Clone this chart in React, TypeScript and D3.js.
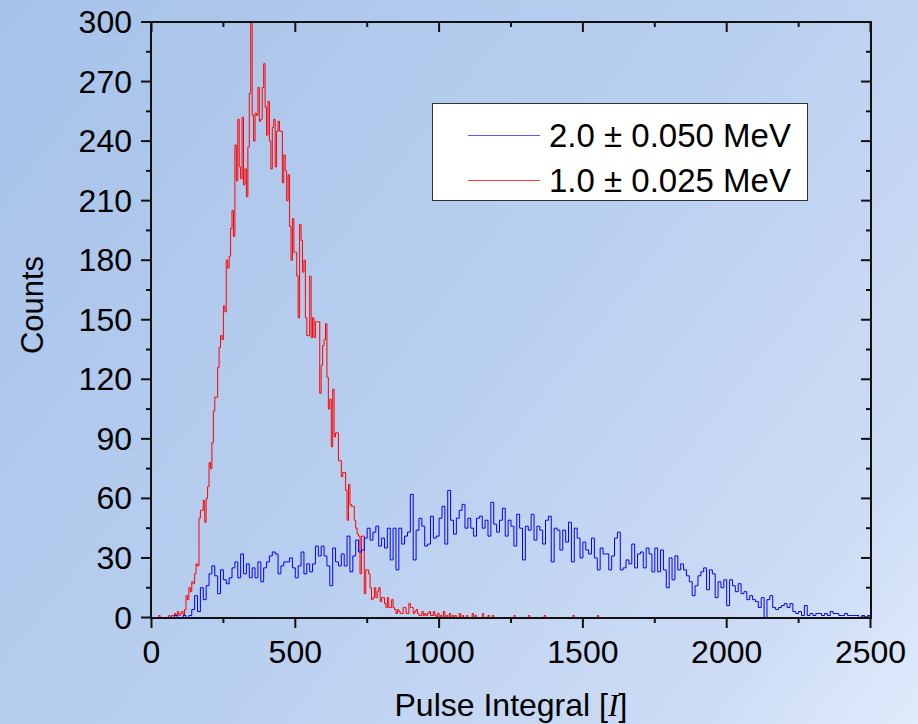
import React from 'react';
import * as d3 from 'd3';

// ---------- data ----------
const xTickValues = [0, 500, 1000, 1500, 2000, 2500];
const yTickValues = [0, 30, 60, 90, 120, 150, 180, 210, 240, 270, 300];
const xTitle = 'Pulse Integral [';
const yTitle = 'Counts';
const legendLabels = ['2.0 \u00b1 0.050 MeV', '1.0 \u00b1 0.025 MeV'];

// 1.0 MeV histogram: bins of 5 units from 0 to 1000
const redBinWidth = 5;
const redCounts = [
  0, 0, 0, 0, 0, 1, 0, 0, 0, 0,
  0, 0, 1, 0, 1, 1, 2, 1, 3, 1,
  2, 3, 1, 4, 11, 9, 15, 13, 18, 17,
  22, 27, 26, 50, 54, 54, 59, 48, 60, 66,
  78, 75, 88, 104, 111, 111, 126, 136, 142, 140,
  157, 154, 180, 176, 182, 196, 205, 192, 238, 220,
  251, 227, 221, 252, 218, 226, 212, 237, 264, 300,
  253, 240, 254, 253, 267, 250, 251, 267, 279, 257,
  243, 260, 240, 226, 247, 251, 227, 245, 250, 245,
  245, 219, 233, 225, 210, 223, 197, 180, 201, 184,
  184, 172, 151, 198, 190, 174, 180, 151, 142, 142,
  172, 141, 151, 141, 149, 149, 149, 113, 127, 137,
  140, 148, 121, 105, 110, 86, 115, 91, 93, 93,
  79, 79, 71, 73, 73, 64, 49, 67, 57, 56,
  56, 49, 45, 42, 41, 22, 41, 41, 12, 24,
  24, 22, 15, 9, 10, 15, 10, 13, 15, 8,
  10, 10, 7, 5, 10, 5, 5, 9, 5, 4,
  2, 4, 3, 2, 2, 5, 5, 2, 2, 7,
  5, 5, 2, 3, 4, 2, 1, 1, 3, 1,
  2, 1, 2, 3, 1, 1, 3, 1, 0, 2,
];
// sparse tail of the 1.0 MeV histogram beyond 1000
const redTailBins = [1005, 1015, 1025, 1035, 1045, 1055, 1070, 1080, 1095, 1115, 1125, 1150, 1170, 1185, 1260, 1310, 1365, 1465, 1550];
const redTailCounts = [1, 3, 1, 2, 1, 1, 2, 1, 1, 2, 1, 2, 1, 1, 1, 1, 1, 1, 1];

// 2.0 MeV histogram: bins of 10 units from 0 to 2500
const blueBinWidth = 10;
const blueCounts = [
  0, 0, 0, 0, 0, 0, 0, 0, 1, 0,
  0, 1, 0, 1, 4, 11, 3, 15, 9, 16,
  22, 26, 21, 12, 24, 19, 17, 20, 25, 28,
  20, 32, 22, 27, 20, 25, 20, 28, 18, 25,
  28, 31, 33, 32, 22, 26, 28, 28, 30, 25,
  20, 26, 33, 22, 27, 23, 27, 36, 31, 36,
  31, 26, 16, 35, 28, 26, 32, 26, 41, 23,
  31, 39, 33, 34, 40, 45, 39, 43, 46, 36,
  40, 35, 45, 29, 45, 24, 45, 37, 41, 43,
  62, 29, 44, 50, 46, 36, 37, 51, 40, 41,
  50, 56, 37, 64, 49, 42, 50, 54, 57, 45,
  50, 45, 41, 50, 51, 45, 49, 41, 58, 47,
  43, 49, 55, 41, 49, 46, 36, 52, 45, 29,
  46, 44, 52, 39, 46, 44, 37, 49, 51, 28,
  45, 44, 34, 44, 38, 48, 28, 45, 40, 30,
  38, 34, 32, 40, 30, 24, 35, 32, 32, 24,
  31, 40, 43, 24, 25, 29, 27, 37, 25, 32,
  33, 25, 35, 32, 23, 35, 23, 34, 24, 15,
  30, 19, 31, 24, 27, 24, 21, 18, 11, 16,
  21, 23, 25, 14, 24, 22, 10, 18, 15, 19,
  6, 19, 16, 13, 17, 12, 13, 9, 11, 9,
  8, 5, 10, 0, 9, 11, 5, 4, 5, 6,
  7, 5, 7, 3, 2, 3, 1, 6, 1, 2,
  1, 2, 2, 1, 2, 1, 3, 2, 2, 1,
  1, 2, 1, 1, 1, 1, 0, 1, 0, 1,
];

// ---------- helpers ----------
const W = 918;
const H = 724;
const x = d3.scaleLinear().domain([0, 2500]).range([151.5, 870.5]);
const y = d3.scaleLinear().domain([0, 300]).range([617.5, 22]);

function stepPath(counts: number[], width: number): string {
  const pts: [number, number][] = counts.map((c, i) => [i * width, c]);
  pts.push([counts.length * width, counts[counts.length - 1]]);
  const line = d3
    .line<[number, number]>()
    .x((d) => x(d[0]))
    .y((d) => y(d[1]))
    .curve(d3.curveStepAfter);
  return line(pts) || '';
}

function buildRed(): number[] {
  const n = Math.round(2500 / redBinWidth);
  const arr = new Array(n).fill(0);
  redCounts.forEach((c, i) => (arr[i] = c));
  redTailBins.forEach((b, i) => (arr[Math.round(b / redBinWidth)] = redTailCounts[i]));
  return arr;
}

export default function App() {
  const redPath = stepPath(buildRed(), redBinWidth);
  const bluePath = stepPath(blueCounts, blueBinWidth);
  const xMinor = d3.range(250, 2500, 500);
  const yMinor = d3.range(15, 300, 30);
  const font = '"Liberation Sans", Arial, sans-serif';
  const x0 = 151, x1 = 871, yTop = 22, yBot = 618;
  const tickColor = '#111';

  return (
    <svg
      width={W}
      height={H}
      style={{ position: 'absolute', left: 0, top: 0, display: 'block' }}
      fontFamily={font}
    >
      <defs>
        <linearGradient id="bg" gradientUnits="userSpaceOnUse" x1={0} y1={0} x2={W} y2={H}>
          <stop offset="0" stopColor="#a6c2e9" />
          <stop offset="0.5" stopColor="#b9cfef" />
          <stop offset="0.85" stopColor="#cddcf5" />
          <stop offset="1" stopColor="#e0ebfc" />
        </linearGradient>
        <clipPath id="plotClip">
          <rect x={x0} y={yTop - 1} width={x1 - x0} height={yBot - yTop + 1} />
        </clipPath>
      </defs>
      <rect x={0} y={0} width={W} height={H} fill="url(#bg)" />

      {/* data */}
      <g clipPath="url(#plotClip)" fill="none" strokeWidth={1}>
        <path d={redPath} stroke="#ff0000" />
        <path d={bluePath} stroke="#0000ff" />
      </g>

      {/* frame */}
      <g stroke={tickColor} strokeWidth={2} fill="none">
        <line x1={x0} y1={yTop} x2={x0} y2={yBot} />
        <line x1={x1} y1={yTop} x2={x1} y2={yBot} />
        <line x1={x0 - 1} y1={yTop} x2={x1 + 1} y2={yTop} />
        <line x1={x0 - 1} y1={yBot} x2={x1 + 1} y2={yBot} />
        {xTickValues.map((v) => (
          <g key={'xt' + v}>
            <line x1={x(v)} y1={yBot} x2={x(v)} y2={yBot + 10} />
            <line x1={x(v)} y1={yTop} x2={x(v)} y2={yTop + 10} />
          </g>
        ))}
        {xMinor.map((v) => (
          <g key={'xm' + v}>
            <line x1={x(v)} y1={yBot} x2={x(v)} y2={yBot + 5} />
            <line x1={x(v)} y1={yTop} x2={x(v)} y2={yTop + 5} />
          </g>
        ))}
        {yTickValues.map((v) => (
          <g key={'yt' + v}>
            <line x1={x0 - 10} y1={y(v)} x2={x0} y2={y(v)} />
            <line x1={x1 - 10} y1={y(v)} x2={x1} y2={y(v)} />
          </g>
        ))}
        {yMinor.map((v) => (
          <g key={'ym' + v}>
            <line x1={x0 - 5} y1={y(v)} x2={x0} y2={y(v)} />
            <line x1={x1 - 5} y1={y(v)} x2={x1} y2={y(v)} />
          </g>
        ))}
      </g>

      {/* tick labels */}
      <g fontSize={32} fill="#000">
        {xTickValues.map((v) => (
          <text key={'xl' + v} x={x(v)} y={663} textAnchor="middle">
            {v}
          </text>
        ))}
        {yTickValues.map((v) => (
          <text key={'yl' + v} x={132} y={y(v) + 11} textAnchor="end">
            {v}
          </text>
        ))}
      </g>

      {/* axis titles */}
      <text x={(x0 + x1) / 2} y={716} textAnchor="middle" fontSize={32} fill="#000">
        {xTitle}
        <tspan fontFamily='"Liberation Serif", "Times New Roman", serif' fontStyle="italic">I</tspan>
        ]
      </text>
      <text
        transform="translate(43,305) rotate(-90)"
        textAnchor="middle"
        fontSize={31}
        fill="#000"
      >
        {yTitle}
      </text>

      {/* legend */}
      <rect x={432.5} y={103.5} width={375} height={97} fill="#ffffff" stroke="#333" strokeWidth={1} />
      <line x1={468} y1={135.5} x2={540} y2={135.5} stroke="#5a5aff" strokeWidth={1} />
      <line x1={468} y1={180.5} x2={540} y2={180.5} stroke="#ff3a3a" strokeWidth={1} />
      <text x={549} y={147} fontSize={33} fill="#000">{legendLabels[0]}</text>
      <text x={549} y={192} fontSize={33} fill="#000">{legendLabels[1]}</text>
    </svg>
  );
}
